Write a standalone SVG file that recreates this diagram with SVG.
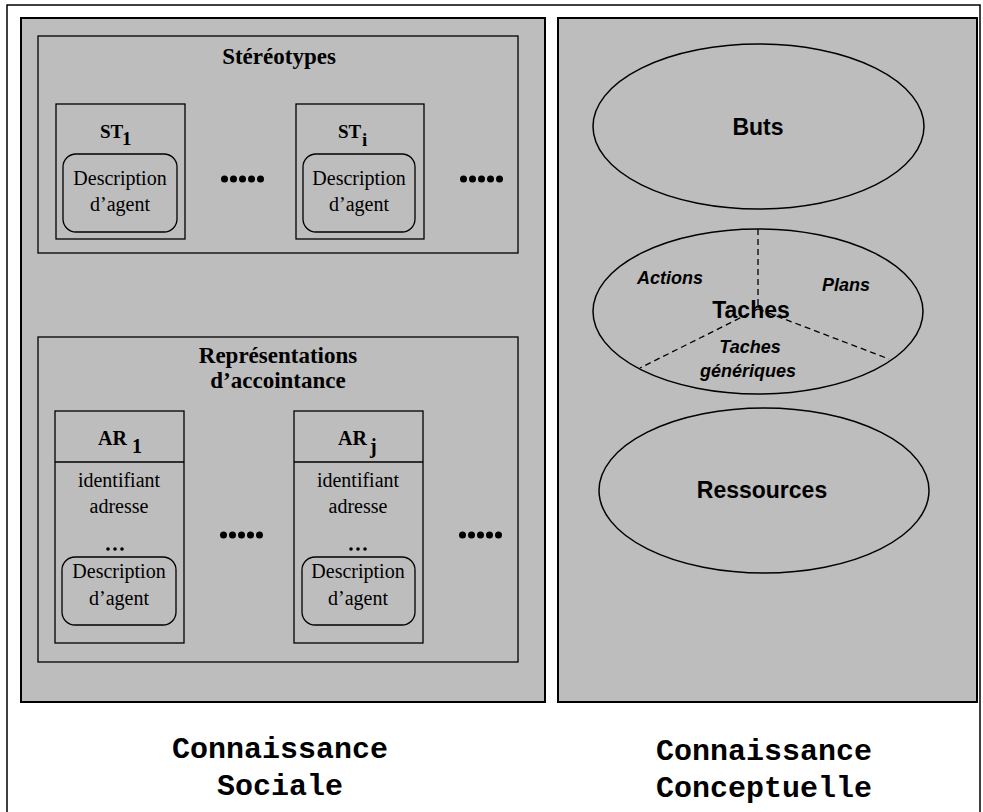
<svg xmlns="http://www.w3.org/2000/svg" width="983" height="812" viewBox="0 0 983 812">
<style>
.panel{fill:#bdbdbd;stroke:#000;stroke-width:2}
.box{fill:none;stroke:#000;stroke-width:1.3}
.rbox{fill:none;stroke:#000;stroke-width:1.3}
.ell{fill:none;stroke:#000;stroke-width:1.5}
.dash{fill:none;stroke:#000;stroke-width:1.3;stroke-dasharray:6 4}
.tb{font-family:"Liberation Serif","Times New Roman",serif;font-weight:bold;fill:#000}
.tr{font-family:"Liberation Serif","Times New Roman",serif;font-size:20px;fill:#000;text-anchor:middle}
.hb{font-family:"Liberation Sans",Arial,sans-serif;font-weight:bold;fill:#000;text-anchor:middle}
.hi{font-family:"Liberation Sans",Arial,sans-serif;font-weight:bold;font-style:italic;font-size:18px;fill:#000;text-anchor:middle}
.mono{font-family:"Liberation Mono","Courier New",monospace;font-weight:bold;font-size:30px;fill:#000;text-anchor:middle}
.dot{fill:#000}
</style>
<defs>
<g id="dots5">
<circle class="dot" cx="3.5" cy="0" r="3.5"/>
<circle class="dot" cx="12.5" cy="0" r="3.5"/>
<circle class="dot" cx="21.5" cy="0" r="3.5"/>
<circle class="dot" cx="30.5" cy="0" r="3.5"/>
<circle class="dot" cx="39.5" cy="0" r="3.5"/>
</g>
<g id="dots3">
<circle class="dot" cx="0" cy="0" r="1.8"/>
<circle class="dot" cx="7" cy="0" r="1.8"/>
<circle class="dot" cx="14" cy="0" r="1.8"/>
</g>
</defs>
<rect width="983" height="812" fill="#fff"/>
<g id="frame">
<path d="M7,812 V5 H980 V812" fill="none" stroke="#000" stroke-width="1.5"/>
</g>

<g id="social-panel">
<rect class="panel" x="21" y="18" width="524" height="684"/>
</g>
<g id="conceptual-panel">
<rect class="panel" x="558" y="18" width="419" height="684"/>
</g>

<g id="stereotypes">
<rect class="box" x="38" y="36" width="480" height="217"/>
<text class="tb" x="279" y="64" font-size="23" text-anchor="middle">Stéréotypes</text>
</g>
<g id="st1">
<rect class="box" x="56" y="104" width="129" height="135"/>
<text class="tb" x="100" y="138" font-size="19">ST</text>
<text class="tb" x="122" y="145" font-size="19">1</text>
<rect class="rbox" x="63" y="154" width="114" height="78" rx="13"/>
<text class="tr" x="120" y="185">Description</text>
<text class="tr" x="120" y="211">d’agent</text>
</g>
<g id="dots-st-1"><use href="#dots5" x="221" y="179"/></g>
<g id="sti">
<rect class="box" x="296" y="104" width="128" height="135"/>
<text class="tb" x="338" y="138" font-size="19">ST</text>
<text class="tb" x="362" y="146" font-size="19">i</text>
<rect class="rbox" x="303" y="154" width="112" height="78" rx="13"/>
<text class="tr" x="359" y="185">Description</text>
<text class="tr" x="359" y="211">d’agent</text>
</g>
<g id="dots-st-2"><use href="#dots5" x="460" y="179"/></g>

<g id="representations">
<rect class="box" x="38" y="337" width="480" height="325"/>
<text class="tb" x="278" y="363" font-size="23" text-anchor="middle">Représentations</text>
<text class="tb" x="278" y="388" font-size="23" text-anchor="middle">d’accointance</text>
</g>
<g id="ar1">
<rect class="box" x="55" y="411" width="129" height="232"/>
<line class="box" x1="55" y1="462" x2="184" y2="462"/>
<text class="tb" x="98" y="445" font-size="20">AR</text>
<text class="tb" x="132" y="453" font-size="20">1</text>
<text class="tr" x="119" y="487">identifiant</text>
<text class="tr" x="119" y="513">adresse</text>
<use href="#dots3" x="108" y="549"/>
<rect class="rbox" x="62" y="557" width="114" height="68" rx="13"/>
<text class="tr" x="119" y="578">Description</text>
<text class="tr" x="119" y="605">d’agent</text>
</g>
<g id="dots-ar-1"><use href="#dots5" x="220" y="535"/></g>
<g id="arj">
<rect class="box" x="294" y="411" width="129" height="232"/>
<line class="box" x1="294" y1="462" x2="423" y2="462"/>
<text class="tb" x="338" y="445" font-size="20">AR</text>
<text class="tb" x="370" y="453" font-size="20">j</text>
<text class="tr" x="358" y="487">identifiant</text>
<text class="tr" x="358" y="513">adresse</text>
<use href="#dots3" x="351" y="549"/>
<rect class="rbox" x="302" y="557" width="113" height="68" rx="13"/>
<text class="tr" x="358" y="578">Description</text>
<text class="tr" x="358" y="605">d’agent</text>
</g>
<g id="dots-ar-2"><use href="#dots5" x="459" y="535"/></g>

<g id="buts">
<ellipse class="ell" cx="758.5" cy="126.5" rx="165.5" ry="82.5"/>
<text class="hb" x="758" y="135" font-size="23">Buts</text>
</g>
<g id="taches">
<ellipse class="ell" cx="758" cy="311.5" rx="165" ry="82.5"/>
<line class="dash" x1="758" y1="229" x2="758" y2="309"/>
<line class="dash" x1="758" y1="309" x2="640" y2="368"/>
<line class="dash" x1="758" y1="309" x2="889" y2="359"/>
<text class="hi" x="670" y="284">Actions</text>
<text class="hi" x="846" y="291">Plans</text>
<text class="hb" x="751" y="318" font-size="23">Taches</text>
<text class="hi" x="750" y="353">Taches</text>
<text class="hi" x="748" y="377">génériques</text>
</g>
<g id="ressources">
<ellipse class="ell" cx="764" cy="490.5" rx="165" ry="82.5"/>
<text class="hb" x="762" y="498" font-size="23">Ressources</text>
</g>
<g id="connectors"></g>

<g id="label-social">
<text class="mono" x="280" y="758">Connaissance</text>
<text class="mono" x="280" y="795">Sociale</text>
</g>
<g id="label-conceptual">
<text class="mono" x="764" y="760">Connaissance</text>
<text class="mono" x="764" y="797">Conceptuelle</text>
</g>
</svg>
